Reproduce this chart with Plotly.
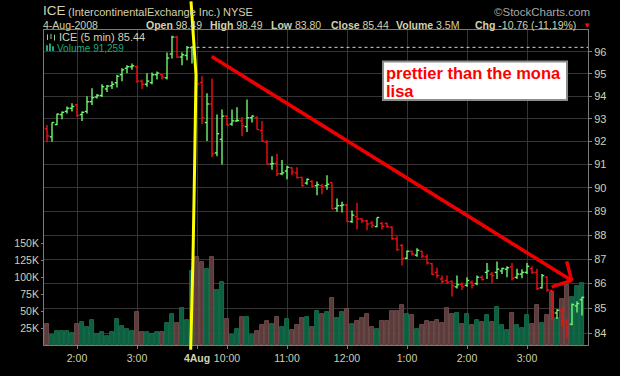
import plotly.graph_objects as go
import math

# ---------------- data (5-minute bars, Aug 1 1:30pm .. Aug 4 3:55pm) ----------------
opens = [92.55, 92.20, 92.74, 93.18, 93.32, 93.46, 93.61, 93.18, 93.32, 93.75,
         93.96, 94.03, 94.32, 94.46, 94.60, 94.96, 95.25, 95.32, 95.32, 94.67,
         94.53, 94.60, 94.96, 94.96, 94.82, 95.90, 96.67, 95.76, 95.83, 96.19,
         94.60, 94.61, 92.83, 93.65, 91.50, 92.09, 93.11, 92.76, 92.90, 92.90,
         92.65, 93.04, 93.04, 92.48, 91.96, 91.02, 91.05, 90.60, 90.72, 90.86,
         90.64, 90.44, 90.20, 90.27, 90.09, 90.09, 90.09, 90.22, 89.13, 89.24,
         89.27, 88.57, 88.77, 88.68, 88.60, 88.51, 88.36, 88.49, 88.49, 88.33,
         87.85, 87.57, 87.04, 87.33, 87.17, 87.33, 87.10, 86.82, 86.46, 86.19,
         86.13, 86.09, 85.87, 85.96, 85.93, 86.06, 86.00, 86.26, 86.46, 86.39,
         86.46, 86.52, 86.59, 86.69, 86.26, 86.39, 86.46, 86.61, 86.46, 85.83,
         86.26, 85.72, 84.81, 84.90, 84.45, 84.36, 85.10, 85.35]
highs = [92.72, 92.83, 93.23, 93.32, 93.54, 93.68, 93.65, 93.32, 93.99, 94.35,
         94.10, 94.53, 94.50, 94.67, 94.96, 95.25, 95.39, 95.47, 95.36, 94.74,
         95.03, 95.06, 95.10, 94.99, 95.97, 96.73, 96.73, 95.97, 96.26, 96.26,
         94.75, 94.89, 94.13, 94.79, 93.18, 93.40, 93.14, 93.40, 93.51, 93.07,
         93.85, 93.14, 93.11, 92.90, 92.06, 91.36, 91.46, 91.19, 90.95, 90.88,
         90.88, 90.47, 90.40, 90.33, 90.27, 90.17, 90.54, 90.23, 89.54, 89.41,
         89.32, 89.04, 89.36, 88.71, 88.64, 88.60, 88.74, 88.55, 88.53, 88.37,
         87.95, 87.63, 87.36, 87.35, 87.46, 87.35, 87.21, 86.85, 86.65, 86.33,
         86.33, 86.13, 86.33, 86.06, 86.26, 86.13, 86.33, 86.33, 86.85, 86.48,
         86.91, 86.65, 86.71, 86.85, 86.61, 86.59, 86.85, 86.71, 86.61, 86.39,
         86.30, 85.74, 84.96, 85.03, 84.57, 85.19, 85.28, 85.47]
lows = [91.96, 91.99, 92.72, 92.97, 93.23, 93.32, 93.08, 92.90, 93.23, 93.61,
        93.89, 93.96, 94.18, 94.32, 94.39, 94.67, 95.03, 95.18, 94.60, 94.32,
        94.42, 94.53, 94.74, 94.74, 94.74, 95.69, 95.71, 95.39, 95.61, 95.47,
        94.35, 92.76, 92.02, 91.32, 91.36, 91.00, 92.69, 92.69, 92.86, 92.24,
        92.41, 92.83, 92.52, 92.00, 91.00, 90.77, 90.50, 90.54, 90.36, 90.54,
        90.40, 90.06, 90.13, 90.03, 89.68, 89.72, 89.92, 89.09, 88.98, 88.95,
        88.55, 88.51, 88.24, 88.51, 88.20, 88.30, 88.33, 88.24, 88.30, 87.81,
        87.35, 86.74, 87.00, 87.15, 87.10, 87.04, 86.78, 86.35, 86.22, 86.00,
        86.00, 85.48, 85.80, 85.74, 85.87, 85.80, 85.93, 86.13, 86.19, 86.03,
        86.19, 86.39, 86.26, 86.13, 86.19, 86.22, 86.39, 86.39, 85.74, 85.80,
        85.67, 84.50, 84.57, 84.26, 83.80, 84.32, 84.83, 84.71]
closes = [92.24, 92.83, 93.20, 93.28, 93.46, 93.54, 93.14, 93.28, 93.75, 93.93,
          94.03, 94.42, 94.45, 94.53, 94.89, 95.18, 95.32, 95.36, 94.67, 94.53,
          94.67, 94.96, 95.03, 94.85, 95.71, 96.67, 95.76, 95.86, 96.19, 96.20,
          94.55, 93.04, 93.65, 91.46, 92.34, 93.11, 92.72, 92.90, 92.92, 92.69,
          93.04, 93.11, 92.52, 92.02, 91.02, 91.04, 90.60, 90.64, 90.88, 90.68,
          90.44, 90.09, 90.36, 90.06, 90.13, 90.03, 90.15, 89.11, 89.24, 89.27,
          88.57, 88.84, 88.68, 88.60, 88.47, 88.41, 88.74, 88.37, 88.36, 87.85,
          87.40, 87.04, 87.33, 87.22, 87.37, 87.13, 86.85, 86.39, 86.33, 86.09,
          86.06, 85.91, 85.96, 85.87, 86.13, 85.93, 86.26, 86.17, 86.52, 86.33,
          86.59, 86.62, 86.65, 86.22, 86.39, 86.46, 86.71, 86.46, 85.80, 86.33,
          85.74, 84.85, 84.92, 84.50, 84.25, 85.15, 85.19, 85.44]
volumes = [31000, 14500, 21000, 21000, 21000, 17000, 31000, 34000, 26000, 36600,
           15500, 18700, 13000, 18700, 38000, 28600, 24000, 20000, 48000, 18700,
           18700, 15500, 19500, 18700, 33000, 45000, 33000, 54000, 36600, 109000,
           130000, 122500, 112000, 130000, 81000, 93000, 38000, 14500, 24000, 41000,
           41000, 14500, 20000, 29600, 35000, 31000, 41000, 27000, 38000, 22500,
           29600, 40000, 41000, 26000, 50700, 45000, 48000, 69000, 40000, 48000,
           52500, 31000, 35600, 40000, 45000, 26000, 24000, 35600, 35600, 49700,
           49700, 59000, 45000, 43700, 24000, 29600, 35600, 34000, 37500, 32000,
           54000, 45000, 47000, 31000, 45000, 29600, 36600, 33800, 43700, 34000,
           56000, 29600, 21500, 47000, 29600, 24800, 43700, 31000, 59000, 32800,
           43700, 78000, 40000, 67000, 88000, 70000, 87000, 91259]
prev_close = 96.20

tick_pos = [6, 18, 30, 36, 48, 60, 72, 84, 96]
tick_txt = ["2:00", "3:00", "<b>4Aug</b>", "10:00", "11:00", "12:00", "1:00", "2:00", "3:00"]
price_ticks = list(range(84, 97))
vol_ticks = [25000, 50000, 75000, 100000, 125000, 150000]
vol_tick_txt = ["25K", "50K", "75K", "100K", "125K", "150K"]

# ---------------- styling ----------------
W, H = 620, 376
ML, MR, MT, MB = 44, 32, 30, 17
PW, PH = W - ML - MR, H - MT - MB
BEIGE = "#d2d2ae"
UP, DOWN = "#70f870", "#f01010"
GRID = "#353535"

def px(x):
    return (x - ML) / PW

def py(y):
    return (H - MB - y) / PH

n = len(closes)
xs = list(range(n))
up = [(closes[i] >= (closes[i - 1] if i > 0 else opens[i])) for i in range(n)]

fig = go.Figure()

# volume bars (base y axis, drawn below prices)
fig.add_trace(go.Bar(
    x=xs, y=volumes, width=0.9,
    marker=dict(color=["#0d603f" if u else "#5c3b3b" for u in up],
                line=dict(color=["#1b7a55" if u else "#7e5858" for u in up], width=0.8)),
    yaxis="y", hoverinfo="skip"))

# OHLC bars as line segments
def segs(mask):
    sx, sy = [], []
    for i in range(n):
        if up[i] != mask:
            continue
        sx += [i, i, None, i - 0.45, i, None, i, i + 0.45, None]
        sy += [lows[i], highs[i], None, opens[i], opens[i], None, closes[i], closes[i], None]
    return sx, sy

for mask, col in ((True, UP), (False, DOWN)):
    sx, sy = segs(mask)
    fig.add_trace(go.Scatter(x=sx, y=sy, mode="lines", line=dict(color=col, width=1.4),
                             yaxis="y2", hoverinfo="skip", connectgaps=False))

# previous close dashed line
fig.add_trace(go.Scatter(x=[29.9, 108.2], y=[prev_close, prev_close], mode="lines",
                         line=dict(color="#d8d8a0", width=1, dash="3px,3px"),
                         yaxis="y2", hoverinfo="skip"))

lo, hi = 83.532, 96.995
fig.update_layout(
    width=W, height=H, margin=dict(l=ML, r=MR, t=MT, b=MB),
    paper_bgcolor="#000000", plot_bgcolor="#000000", showlegend=False,
    font=dict(family="Liberation Sans, Arial, sans-serif", color=BEIGE, size=11),
    bargap=0,
    xaxis=dict(range=[-0.6, 108.2], tickmode="array", tickvals=tick_pos, ticktext=tick_txt,
               showgrid=True, gridcolor=GRID, gridwidth=1, zeroline=False,
               ticks="outside", ticklen=3, tickcolor="#808080",
               tickfont=dict(size=10.5, color=BEIGE),
               showline=True, linecolor="#7a7a7a", mirror=True),
    yaxis=dict(range=[0, PH / 0.71 * 1000], side="left", tickmode="array",
               tickvals=vol_ticks, ticktext=vol_tick_txt, showgrid=False, zeroline=False,
               ticks="outside", ticklen=2, tickcolor="#808080",
               tickfont=dict(size=10.5, color=BEIGE),
               showline=True, linecolor="#7a7a7a"),
    yaxis2=dict(type="log", range=[math.log10(lo), math.log10(hi)], side="right",
                overlaying="y", tickmode="array", tickvals=price_ticks,
                ticktext=[str(v) for v in price_ticks],
                showgrid=True, gridcolor=GRID, gridwidth=1, zeroline=False,
                ticks="outside", ticklen=3, tickcolor="#808080",
                tickfont=dict(size=11, color=BEIGE),
                showline=True, linecolor="#7a7a7a"),
)

ann = []
def text(x, y, s, size=11, color=BEIGE, anchor="left"):
    ann.append(dict(xref="paper", yref="paper", x=px(x), y=py(y), text=s, showarrow=False,
                    xanchor=anchor, yanchor="middle", font=dict(size=size, color=color),
                    borderpad=0, borderwidth=0))

# header
text(43, 10, "ICE", size=13.5)
text(68, 11, "(IntercontinentalExchange Inc.)", size=11)
text(223, 11, "NYSE", size=11)
text(590, 11, "©StockCharts.com", size=11.5, color="#a8a8a8", anchor="right")
text(43, 25, "4-Aug-2008", size=10.5)
text(146, 25, "<b>Open</b> 98.49", size=10.5)
text(210, 25, "<b>High</b> 98.49", size=10.5)
text(271, 25, "<b>Low</b> 83.80", size=10.5)
text(331, 25, "<b>Close</b> 85.44", size=10.5)
text(396, 25, "<b>Volume</b> 3.5M", size=10.5)
text(475, 25, "<b>Chg</b> -10.76 (-11.19%)", size=10.5)
text(583, 25, "▼", size=8, color="#ee1111")
# inner legend
text(59, 37.5, "ICE (5 min) 85.44", size=11)
text(57, 49, "Volume 91,259", size=10, color="#1fa67a")
# note box text
text(386, 75, "<b>prettier than the mona</b>", size=16.5, color="#ff0000")
text(386, 94, "<b>lisa</b>", size=16.5, color="#ff0000")
fig.update_layout(annotations=ann)

shapes = []
def seg(x0, y0, x1, y1, color, width):
    shapes.append(dict(type="line", xref="paper", yref="paper", x0=px(x0), y0=py(y0),
                       x1=px(x1), y1=py(y1), line=dict(color=color, width=width), layer="above"))

# note box
shapes.append(dict(type="rect", xref="paper", yref="paper", x0=px(383), y0=py(103),
                   x1=px(567), y1=py(63), fillcolor="#ffffff",
                   line=dict(color="#8c8c8c", width=2), layer="above"))
# red trend arrow
seg(211.7, 57.7, 571.7, 291.7, "#ee0000", 3.5)
seg(566.7, 271.7, 571.7, 292.0, "#ee0000", 3.5)
seg(551.7, 298.3, 571.7, 291.5, "#ee0000", 3.5)
# yellow hand-drawn line
pts = [(191, 0), (196, 77), (194.7, 167), (193, 267), (190.7, 364)]
path = "M " + " L ".join(f"{px(a):.5f},{py(b):.5f}" for a, b in pts)
shapes.append(dict(type="path", xref="paper", yref="paper", path=path,
                   line=dict(color="#ffff00", width=3), layer="above"))
# legend icons
seg(47.5, 34.5, 47.5, 40.5, "#8fd08f", 1)
seg(51, 34, 51, 39.5, "#8fd08f", 1)
seg(54.5, 35, 54.5, 41, "#8fd08f", 1)
for xx, top in ((47, 46), (50, 44), (53, 47)):
    shapes.append(dict(type="rect", xref="paper", yref="paper", x0=px(xx - 1), y0=py(52),
                       x1=px(xx + 1), y1=py(top), fillcolor="#1fa67a", line=dict(width=0),
                       layer="above"))
fig.update_layout(shapes=shapes)

fig.write_html("out.html", config={"displayModeBar": False})
